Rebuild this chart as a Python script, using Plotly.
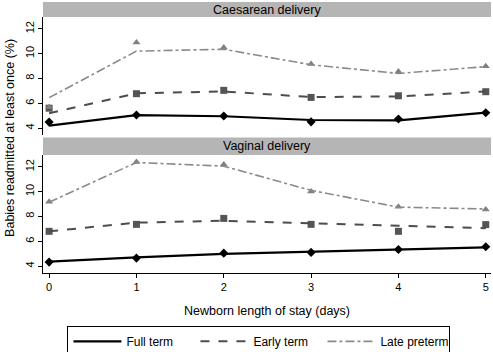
import plotly.graph_objects as go

days = [0, 1, 2, 3, 4, 5]
x_ticks = [0, 1, 2, 3, 4, 5]
y_ticks = [4, 6, 8, 10, 12]
panels = ["Caesarean delivery", "Vaginal delivery"]
groups = ["Full term", "Early term", "Late preterm"]

# Observed percentages (markers)
ces_full_obs = [4.48, 5.05, 4.97, 4.50, 4.73, 5.23]
ces_early_obs = [5.60, 6.77, 7.04, 6.47, 6.60, 6.93]
ces_late_obs = [5.70, 10.90, 10.50, 9.17, 8.55, 8.98]
vag_full_obs = [4.32, 4.64, 5.04, 5.10, 5.34, 5.55]
vag_early_obs = [6.80, 7.36, 7.84, 7.36, 6.80, 7.34]
vag_late_obs = [9.18, 12.38, 12.19, 10.00, 8.78, 8.56]

# Fitted percentages (lines)
ces_full_fit = [4.20, 5.05, 4.95, 4.65, 4.62, 5.25]
ces_early_fit = [5.20, 6.80, 6.95, 6.50, 6.55, 6.95]
ces_late_fit = [6.45, 10.20, 10.35, 9.10, 8.40, 8.95]
vag_full_fit = [4.35, 4.70, 4.98, 5.15, 5.35, 5.50]
vag_early_fit = [6.80, 7.50, 7.65, 7.45, 7.20, 7.05]
vag_late_fit = [9.15, 12.35, 12.05, 10.10, 8.75, 8.60]

line_colors = ["#000000", "#4d4d4d", "#8a8a8a"]
marker_colors = ["#000000", "#555555", "#808080"]
dashes = ["solid", "dash", "dashdot"]
widths = [2.2, 2.0, 1.6]
symbols = ["diamond", "square", "triangle-up"]

FONT = "Liberation Sans, Arial, sans-serif"

fig = go.Figure()

panel_data = [
    (("x", "y"), [ces_full_fit, ces_early_fit, ces_late_fit], [ces_full_obs, ces_early_obs, ces_late_obs]),
    (("x2", "y2"), [vag_full_fit, vag_early_fit, vag_late_fit], [vag_full_obs, vag_early_obs, vag_late_obs]),
]

for pi, ((xa, ya), fits, obss) in enumerate(panel_data):
    for gi in range(3):
        fig.add_trace(go.Scatter(
            x=days, y=obss[gi], xaxis=xa, yaxis=ya, mode="markers",
            marker=dict(symbol=symbols[gi], size=7, color=marker_colors[gi]),
            showlegend=False, hoverinfo="skip", cliponaxis=False))
    for gi in range(3):
        fig.add_trace(go.Scatter(
            x=days, y=fits[gi], xaxis=xa, yaxis=ya, mode="lines",
            line=dict(color=line_colors[gi], width=widths[gi], dash=dashes[gi]),
            name=groups[gi], showlegend=(pi == 0), legendrank=gi + 1))

yr = [3.44, 12.95]
xr = [-0.07, 5.06]

axis_common = dict(showgrid=False, zeroline=False, linecolor="black", linewidth=1,
                   ticks="outside", ticklen=4, tickcolor="black", automargin=False,
                   tickfont=dict(family=FONT, size=11, color="black"))

fig.update_layout(
    width=493, height=352,
    margin=dict(l=43, r=2, t=2, b=79, autoexpand=False),
    paper_bgcolor="white", plot_bgcolor="white",
    font=dict(family=FONT, size=12, color="black"),
    xaxis=dict(domain=[0, 1], range=xr, anchor="y", showticklabels=False, showline=False,
               ticks="", showgrid=False, zeroline=False, automargin=False),
    yaxis=dict(domain=[0.5092, 0.9446], range=yr, anchor="x", tickvals=y_ticks,
               tickangle=-90, showline=True, **axis_common),
    xaxis2=dict(domain=[0, 1], range=xr, anchor="y2", tickvals=x_ticks, showline=True,
                title=dict(text="Newborn length of stay (days)", standoff=14,
                           font=dict(family=FONT, size=12.5)),
                **axis_common),
    yaxis2=dict(domain=[0, 0.4354], range=yr, anchor="x2", tickvals=y_ticks,
                tickangle=-90, showline=True, **axis_common),
    legend=dict(orientation="h", x=0.482, xanchor="center", y=-0.195, yanchor="top",
                bordercolor="black", borderwidth=1, bgcolor="white",
                font=dict(family=FONT, size=12), itemwidth=48,
                entrywidth=64, entrywidthmode="pixels",
                traceorder="normal"),
    shapes=[
        dict(type="rect", xref="paper", yref="paper", x0=0, x1=1, y0=0.9446, y1=1.0,
             fillcolor="#b5b5b5", line=dict(width=0), layer="below"),
        dict(type="rect", xref="paper", yref="paper", x0=0, x1=1, y0=0.4354, y1=0.5,
             fillcolor="#b5b5b5", line=dict(width=0), layer="below"),
    ],
    annotations=[
        dict(text=panels[0], xref="paper", yref="paper", x=0.5, y=0.9723,
             showarrow=False, font=dict(family=FONT, size=12.5), xanchor="center", yanchor="middle"),
        dict(text=panels[1], xref="paper", yref="paper", x=0.5, y=0.4677,
             showarrow=False, font=dict(family=FONT, size=12.5), xanchor="center", yanchor="middle"),
        dict(text="Babies readmitted at least once (%)", xref="paper", yref="paper",
             x=-0.075, y=0.5, textangle=-90, showarrow=False,
             font=dict(family=FONT, size=12.5), xanchor="center", yanchor="middle"),
    ],
)

fig.write_html("out.html", config={"displayModeBar": False},
               post_script="document.body.style.margin='0';")
